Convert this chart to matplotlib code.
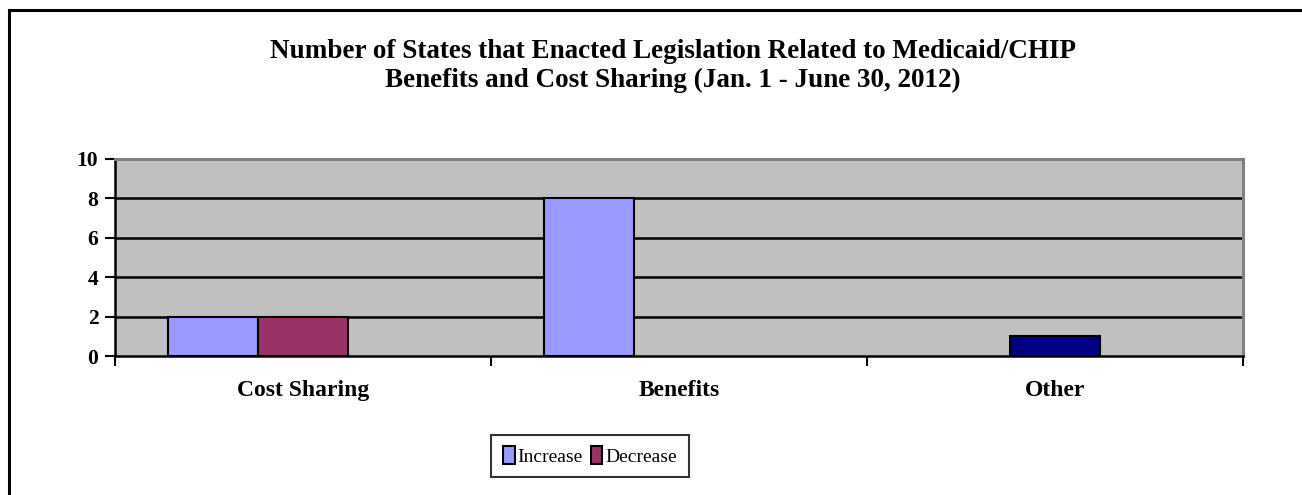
import matplotlib
matplotlib.use("Agg")
import matplotlib.pyplot as plt
import numpy as np
from matplotlib.patches import Rectangle

categories = ["Cost Sharing", "Benefits", "Other"]
increase = [2, 8, 0]
decrease = [2, 0, 1]
decrease_colors = ["#993366", "#993366", "#000080"]
yticks = [0, 2, 4, 6, 8, 10]
title_lines = ["Number of States that Enacted Legislation Related to Medicaid/CHIP",
               "Benefits and Cost Sharing (Jan. 1 - June 30, 2012)"]

plt.rcParams['font.family'] = ['Liberation Serif', 'DejaVu Serif']

fig = plt.figure(figsize=(13.02, 4.95), dpi=100)
W, H = 1302, 495
ax = fig.add_axes([115 / W, 1 - 356 / H, (1243 - 115) / W, (356 - 159) / H])
ax.set_facecolor("#C0C0C0")

x = np.arange(len(categories))
w = 0.239
inc_bars = ax.bar(x - w, increase, width=w, align="center", color="#9999FF",
                  edgecolor="black", linewidth=1.5, label="Increase", zorder=3)
dec_bars = ax.bar(x, decrease, width=w, align="center", color=decrease_colors,
                  edgecolor="black", linewidth=1.5, label="Decrease", zorder=3)
for b in list(inc_bars) + list(dec_bars):
    if b.get_height() == 0:
        b.set_visible(False)

ax.set_xlim(-0.5, len(categories) - 0.5)
ax.set_ylim(0, 10)
ax.set_yticks(yticks)
ax.set_yticklabels([str(v) for v in yticks], fontsize=15.5, fontweight="bold")
for v in yticks[1:-1]:
    ax.axhline(v, color="black", linewidth=1.8, zorder=2)

ax.set_xticks(np.arange(len(categories) + 1) - 0.5)
ax.set_xticklabels([])
ax.set_xticks(x, minor=True)
ax.set_xticklabels(categories, minor=True, fontsize=17, fontweight="bold")
ax.tick_params(axis="x", which="major", direction="out", length=7, width=1.5)
ax.tick_params(axis="x", which="minor", length=0, pad=17)
ax.tick_params(axis="y", direction="out", length=7, width=1.5, pad=5)

for s in ["left", "bottom"]:
    ax.spines[s].set_color("black")
    ax.spines[s].set_linewidth(1.8)
for s in ["top", "right"]:
    ax.spines[s].set_color("#808080")
    ax.spines[s].set_linewidth(2.2)

cx = 0.5 * (258 + 1087) / W
fig.text(cx, 1 - 52 / H, title_lines[0], ha="center", va="center",
         fontsize=19.5, fontweight="bold")
fig.text(cx, 1 - 80 / H, title_lines[1], ha="center", va="center",
         fontsize=19.5, fontweight="bold")

leg = fig.legend(handles=[inc_bars[0], dec_bars[0]], labels=["Increase", "Decrease"],
                 loc="center", bbox_to_anchor=(590 / W, 1 - 456 / H),
                 frameon=True, fancybox=False, edgecolor="black", fontsize=14,
                 handlelength=0.6, handleheight=1.0, handletextpad=0.15,
                 columnspacing=0.4, ncol=2, borderpad=0.6, borderaxespad=0)
leg.get_frame().set_linewidth(1.5)
for h in leg.legend_handles:
    h.set_linewidth(1.5)

fig.patches.append(Rectangle((8.5 / W, -0.1), 1.2, 1 - 9.5 / H + 0.1,
                             transform=fig.transFigure, fill=False,
                             edgecolor="black", linewidth=2.2))

fig.savefig("out.png", dpi=100)
